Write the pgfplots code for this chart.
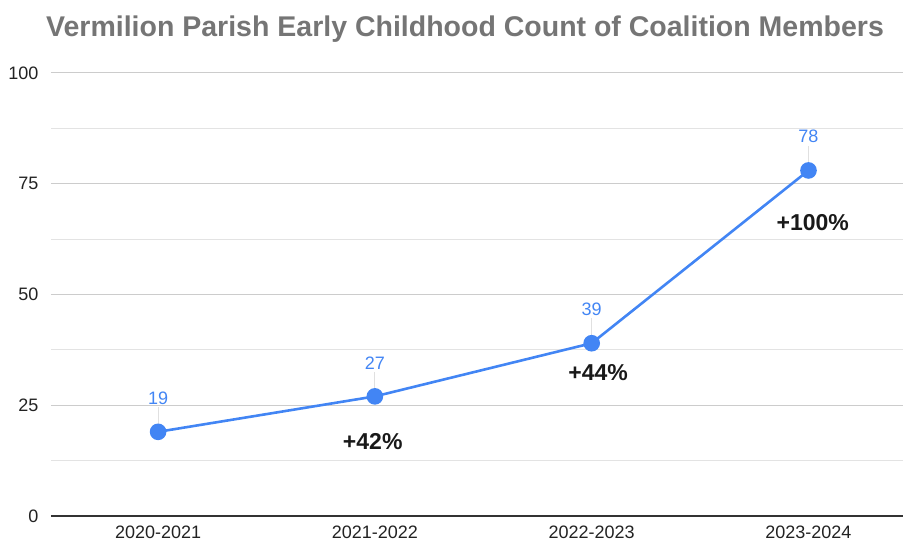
\documentclass[border=0pt]{standalone}
\usepackage{pgfplots}
\pgfplotsset{compat=1.18}
\usepackage{fontspec}
\setmainfont{Liberation Sans}

\definecolor{lineblue}{HTML}{4285F4}
\definecolor{titlegray}{HTML}{757575}
\definecolor{majorgrid}{HTML}{CCCCCC}
\definecolor{minorgrid}{HTML}{E3E3E3}
\definecolor{ticktext}{HTML}{222222}

\begin{document}
\begin{tikzpicture}
	\begin{axis}
		[
		scale only axis,
		width=852bp, height=443bp,
		xmin=-0.494, xmax=3.436,
		ymin=0, ymax=100,
		xtick={0,1,2,3},
		xticklabels={2020-2021,2021-2022,2022-2023,2023-2024},
		ytick={0,25,50,75,100},
		minor y tick num=1,
		ymajorgrids, yminorgrids,
		major grid style={line width=1bp, draw=majorgrid},
		minor grid style={line width=1bp, draw=minorgrid},
		axis x line=bottom,
		axis y line=left,
		x axis line style={-, line width=1.3bp, draw=black!80},
		y axis line style={draw=none},
		tick style={draw=none},
		major tick length=0pt,
		minor tick length=0pt,
		tick label style={font=\fontsize{18bp}{21bp}\selectfont, text=ticktext},
		/pgf/number format/assume math mode=true,
		yticklabel style={anchor=east, xshift=-9bp},
		xticklabel style={yshift=-6bp},
		clip=false,
		]

		% leader lines from the points up to the value labels
		\addplot [draw=none, mark=none,
			error bars/.cd, y dir=plus, y explicit, error mark=none,
			error bar style={line width=1bp, draw=black!12}]
			coordinates {(0,19) +- (0,5.6) (1,27) +- (0,5.6) (2,39) +- (0,5.6) (3,78) +- (0,5.6)};

		\addplot [lineblue, line width=2.6bp, mark=*, mark size=7bp,
			mark options={fill=lineblue, draw=lineblue},
			nodes near coords,
			every node near coord/.append style={anchor=south, yshift=25bp, inner sep=1bp,
				text=lineblue, font=\fontsize{18bp}{21bp}\selectfont}]
			coordinates {(0,19) (1,27) (2,39) (3,78)};

		\node [font=\bfseries\fontsize{23bp}{27bp}\selectfont, text=black!90] at (axis cs:0.99,16.7) {+42\%};
		\node [font=\bfseries\fontsize{23bp}{27bp}\selectfont, text=black!90] at (axis cs:2.03,32.3) {+44\%};
		\node [font=\bfseries\fontsize{23bp}{27bp}\selectfont, text=black!90] at (axis cs:3.02,66.2) {+100\%};

		\coordinate (O) at (rel axis cs:0,0);
	\end{axis}
	\node [text=titlegray, font=\bfseries\fontsize{28.5bp}{32bp}\selectfont]
		at ([shift={(414bp,487bp)}]O) {Vermilion Parish Early Childhood Count of Coalition Members};
	\path ([shift={(-51bp,-28bp)}]O) rectangle ++(904bp,544bp);
\end{tikzpicture}
\end{document}
